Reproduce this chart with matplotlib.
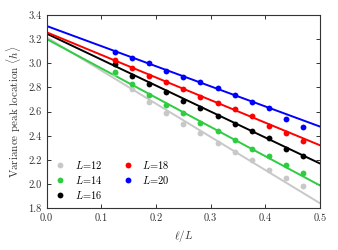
import matplotlib
matplotlib.use("Agg")
import matplotlib.pyplot as plt
import numpy as np

plt.rcParams["font.family"] = "serif"
plt.rcParams["font.serif"] = ["cmr10", "DejaVu Serif"]
plt.rcParams["mathtext.fontset"] = "cm"
plt.rcParams["axes.formatter.use_mathtext"] = True

# ell/L values shared by every system size
x_pts = [0.125, 0.15625, 0.1875, 0.21875, 0.25, 0.28125,
         0.3125, 0.34375, 0.375, 0.40625, 0.4375, 0.46875]

sizes = [12, 14, 16, 18, 20]
colors = ["#c8c8c8", "#2ecc40", "black", "red", "blue"]

peak_L12 = [2.92, 2.79, 2.677, 2.592, 2.501, 2.426, 2.343, 2.266, 2.200, 2.117, 2.048, 1.988]
peak_L14 = [2.928, 2.826, 2.738, 2.658, 2.586, 2.506, 2.440, 2.368, 2.294, 2.236, 2.161, 2.090]
peak_L16 = [2.992, 2.898, 2.832, 2.766, 2.691, 2.633, 2.564, 2.501, 2.437, 2.379, 2.294, 2.233]
peak_L18 = [3.028, 2.964, 2.895, 2.843, 2.785, 2.724, 2.669, 2.622, 2.561, 2.484, 2.426, 2.357]
peak_L20 = [3.097, 3.047, 3.003, 2.939, 2.890, 2.843, 2.793, 2.738, 2.683, 2.628, 2.542, 2.473]
peaks = [peak_L12, peak_L14, peak_L16, peak_L18, peak_L20]

# linear fits: value at ell/L = 0 and at ell/L = 0.5
fit_x = [0.0, 0.5]
fit_start = [3.215, 3.201, 3.246, 3.257, 3.309]
fit_end = [1.841, 1.988, 2.170, 2.321, 2.476]

fig = plt.figure(figsize=(3.38, 2.5), dpi=100)
ax = fig.add_axes([0.138, 0.167, 0.809, 0.773])

for L, c, y, y0, y1 in zip(sizes, colors, peaks, fit_start, fit_end):
    ax.plot(fit_x, [y0, y1], color=c, lw=1.4, zorder=2)
    ax.plot(x_pts, y, "o", color=c, ms=4.2, mec="none", zorder=3,
            label=rf"$L\!=\!{L}$")

ax.set_xlim(0, 0.5)
ax.set_ylim(1.8, 3.4)
ax.set_xticks(np.arange(0, 0.51, 0.1))
ax.set_yticks(np.arange(1.8, 3.41, 0.2))
ax.xaxis.set_major_formatter(matplotlib.ticker.FormatStrFormatter("%.1f"))
ax.yaxis.set_major_formatter(matplotlib.ticker.FormatStrFormatter("%.1f"))
ax.tick_params(direction="in", top=True, right=True, labelsize=7.5,
               length=3, width=0.7, colors="#333333", labelcolor="#333333")
for sp in ax.spines.values():
    sp.set_color("#333333")
    sp.set_linewidth(0.8)

ax.set_xlabel(r"$\ell/L$", fontsize=8, color="#333333")
ax.set_ylabel(r"Variance peak location $\langle h\rangle$", fontsize=8, color="#333333")

ax.legend(loc="lower left", ncol=2, frameon=False, fontsize=7.5,
          handletextpad=0.8, columnspacing=1.8, labelspacing=0.3,
          borderaxespad=0.3, handlelength=1.2)

fig.savefig("out.png", dpi=100)
